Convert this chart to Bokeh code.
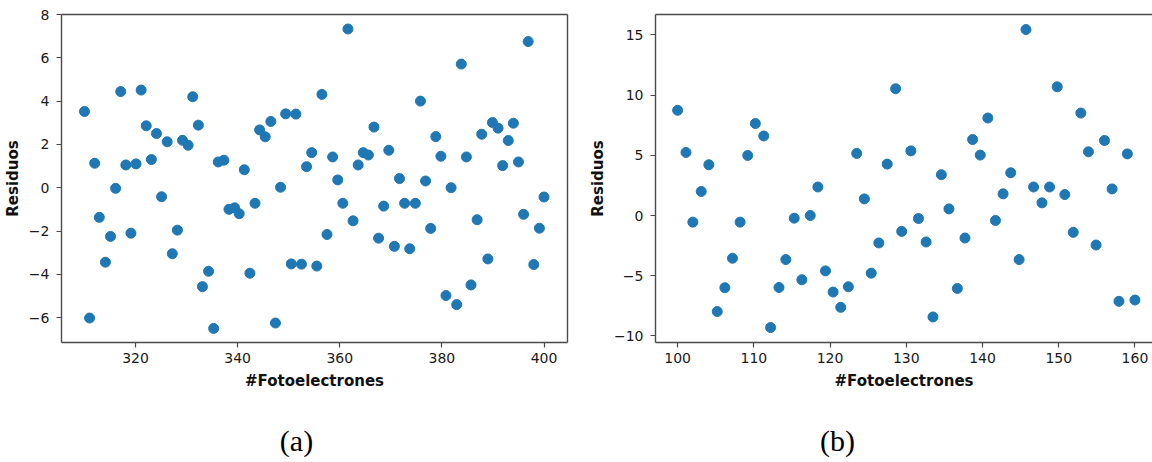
from bokeh.plotting import figure
from bokeh.models import Range1d, FixedTicker, LinearAxis
from bokeh.core.properties import value
from bokeh.layouts import row, column
from bokeh.embed import file_html
from bokeh.resources import INLINE

# ---- data ----
x_a = [310.0, 311.0, 312.0, 312.9, 314.1, 315.1, 316.1, 317.1, 318.1, 319.1,
       320.1, 321.1, 322.1, 323.1, 324.1, 325.1, 326.2, 327.2, 328.2, 329.2,
       330.3, 331.2, 332.3, 333.1, 334.3, 335.3, 336.2, 337.3, 338.3, 339.4,
       340.3, 341.3, 342.4, 343.4, 344.3, 345.4, 346.5, 347.4, 348.4, 349.4,
       350.5, 351.4, 352.5, 353.5, 354.5, 355.5, 356.5, 357.5, 358.6, 359.6,
       360.6, 361.6, 362.6, 363.6, 364.6, 365.6, 366.7, 367.6, 368.6, 369.6,
       370.7, 371.7, 372.7, 373.7, 374.8, 375.8, 376.8, 377.8, 378.8, 379.8,
       380.8, 381.8, 382.9, 383.8, 384.8, 385.7, 386.9, 387.8, 389.0, 389.9,
       391.0, 391.9, 393.0, 394.0, 395.0, 396.0, 396.9, 398.0, 399.1, 400.0]
res_a = [3.52, -6.02, 1.13, -1.37, -3.44, -2.25, -0.03, 4.44, 1.05, -2.10,
         1.10, 4.51, 2.86, 1.30, 2.50, -0.42, 2.12, -3.05, -1.96, 2.19,
         1.96, 4.20, 2.89, -4.57, -3.86, -6.50, 1.19, 1.27, -1.00, -0.93,
         -1.20, 0.83, -3.95, -0.72, 2.67, 2.35, 3.06, -6.25, 0.02, 3.41,
         -3.52, 3.40, -3.53, 0.97, 1.62, -3.62, 4.31, -2.16, 1.42, 0.36,
         -0.72, 7.33, -1.53, 1.05, 1.62, 1.51, 2.80, -2.33, -0.85, 1.73,
         -2.71, 0.42, -0.72, -2.82, -0.72, 4.00, 0.31, -1.88, 2.36, 1.45,
         -4.98, 0.00, -5.40, 5.71, 1.42, -4.49, -1.48, 2.47, -3.29, 3.01,
         2.75, 1.02, 2.18, 2.98, 1.19, -1.23, 6.75, -3.55, -1.87, -0.43]

x_b = [100.0, 101.1, 102.0, 103.1, 104.1, 105.2, 106.2, 107.2, 108.2, 109.2,
       110.2, 111.3, 112.2, 113.3, 114.2, 115.3, 116.3, 117.4, 118.4, 119.4,
       120.4, 121.4, 122.4, 123.5, 124.5, 125.4, 126.4, 127.5, 128.6, 129.4,
       130.6, 131.6, 132.6, 133.5, 134.6, 135.6, 136.7, 137.7, 138.7, 139.7,
       140.7, 141.7, 142.7, 143.7, 144.8, 145.7, 146.7, 147.8, 148.8, 149.8,
       150.8, 151.9, 152.9, 153.9, 154.9, 156.0, 157.0, 157.9, 159.0, 160.0]
res_b = [8.74, 5.24, -0.55, 2.00, 4.22, -7.98, -6.00, -3.55, -0.55, 4.99,
         7.64, 6.61, -9.31, -5.98, -3.66, -0.22, -5.34, 0.00, 2.37, -4.60,
         -6.36, -7.63, -5.92, 5.16, 1.38, -4.79, -2.28, 4.27, 10.53, -1.32,
         5.37, -0.25, -2.20, -8.43, 3.39, 0.55, -6.06, -1.87, 6.31, 5.02,
         8.10, -0.41, 1.80, 3.55, -3.66, 15.45, 2.37, 1.05, 2.37, 10.69,
         1.74, -1.40, 8.51, 5.29, -2.45, 6.23, 2.21, -7.13, 5.12, -7.02]

yt_a = [-6, -4, -2, 0, 2, 4, 6, 8]
xt_a = [320, 340, 360, 380, 400]
yt_b = [-10, -5, 0, 5, 10, 15]
xt_b = [100, 110, 120, 130, 140, 150, 160]

x_label = "#Fotoelectrones"
y_label = "Residuos"
captions = ["(a)", "(b)"]

BLUE = "#1f77b4"
SPINE = "#4a4a4a"
FONT = "DejaVu Sans"
PLOT_H = 400
CAP_H = 62


def minus(v):
    return str(v).replace("-", "\u2212")


def style_axis(ax, ticks):
    ax.ticker = FixedTicker(ticks=ticks)
    ax.major_label_overrides = {t: minus(t) for t in ticks}
    ax.minor_tick_line_color = None
    ax.major_tick_in = 0
    ax.major_tick_out = 5
    ax.major_tick_line_color = SPINE
    ax.major_tick_line_width = 1.2
    ax.axis_line_color = SPINE
    ax.axis_line_width = 1.4
    ax.major_label_text_font = FONT
    ax.major_label_text_font_size = "14px"
    ax.major_label_text_color = "#1a1a1a"
    ax.axis_label_text_font = FONT
    ax.axis_label_text_font_size = "15px"
    ax.axis_label_text_font_style = "bold"
    ax.axis_label_text_color = "#111111"


def spine_axis():
    return LinearAxis(ticker=FixedTicker(ticks=[]), major_tick_line_color=None,
                      minor_tick_line_color=None, axis_line_color=SPINE,
                      axis_line_width=1.4)


def make_panel(xs, ys, xr, yr, xt, yt, width, border_left, border_right):
    p = figure(width=width, height=PLOT_H, output_backend="svg",
               toolbar_location=None, x_range=Range1d(*xr), y_range=Range1d(*yr),
               min_border_left=border_left, min_border_right=border_right,
               min_border_top=14, min_border_bottom=PLOT_H - 342)
    p.grid.visible = False
    p.background_fill_color = "white"
    p.border_fill_color = "white"
    p.outline_line_color = None
    style_axis(p.xaxis[0], xt)
    style_axis(p.yaxis[0], yt)
    p.xaxis.axis_label = x_label
    p.yaxis.axis_label = y_label
    p.xaxis.major_label_standoff = 5
    p.yaxis.major_label_standoff = 7
    p.xaxis.axis_label_standoff = 6
    p.yaxis.axis_label_standoff = 4
    p.add_layout(spine_axis(), "above")
    if border_right > 0:
        p.add_layout(spine_axis(), "right")
    p.scatter(xs, ys, size=10, fill_color=BLUE, line_color=BLUE)
    return p


def caption_panel(text, width, cx):
    c = figure(width=width, height=CAP_H, output_backend="svg",
               toolbar_location=None, x_range=Range1d(0, width),
               y_range=Range1d(CAP_H, 0), min_border=0)
    c.axis.visible = False
    c.grid.visible = False
    c.outline_line_color = None
    c.background_fill_color = "white"
    c.border_fill_color = "white"
    c.text(x=[cx], y=[40], text=[text], text_font=value("Liberation Serif"),
           text_font_size="30px", text_align="center", text_baseline="middle",
           text_color="black")
    return c


p1 = make_panel(x_a, res_a, (305.5, 404.6), (-7.15, 8.0), xt_a, yt_a, 585, 61, 18)
p2 = make_panel(x_b, res_b, (97.1, 162.3), (-10.55, 16.7), xt_b, yt_b, 567, 66, 0)
c1 = caption_panel(captions[0], 585, 296)
c2 = caption_panel(captions[1], 567, 837 - 585)

layout = column(row(p1, p2), row(c1, c2))
open("out.html", "w").write(file_html(layout, INLINE))
